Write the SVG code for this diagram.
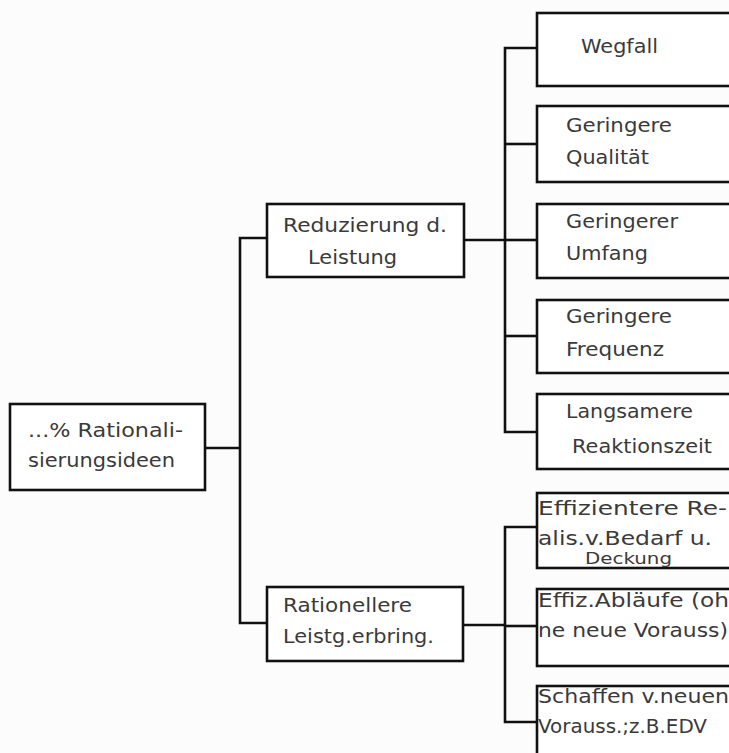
<svg xmlns="http://www.w3.org/2000/svg" width="729" height="753" viewBox="0 0 729 753">
  <style>
    .box { fill: #ffffff; stroke: #111111; stroke-width: 2.6; }
    .wire { fill: none; stroke: #111111; stroke-width: 2.6; stroke-linejoin: miter; }
    text { font-family: "DejaVu Sans", "Liberation Sans", sans-serif; font-size: 19px; fill: #3a3a3a; }
    .small { font-size: 16px; }
  </style>
  <rect width="729" height="753" fill="#fcfcfc"/>

  <!-- connectors -->
  <g id="connectors">
    <path class="wire" d="M205,448 H240"/>
    <path class="wire" d="M267,238 H240 V623 H267"/>
    <path class="wire" d="M464,240 H505"/>
    <path class="wire" d="M463,625 H505"/>
    <path class="wire" d="M537,48 H505 V432 H537"/>
    <path class="wire" d="M505,144 H537"/>
    <path class="wire" d="M505,240 H537"/>
    <path class="wire" d="M505,336 H537"/>
    <path class="wire" d="M537,527 H505 V722 H537"/>
    <path class="wire" d="M505,626 H537"/>
  </g>

  <!-- root -->
  <g id="root">
    <rect class="box" x="10" y="404" width="195" height="86"/>
    <text x="28" y="437" textLength="155" lengthAdjust="spacingAndGlyphs">...% Rationali-</text>
    <text x="28" y="467" textLength="147" lengthAdjust="spacingAndGlyphs">sierungsideen</text>
  </g>

  <!-- second level -->
  <g id="reduzierung">
    <rect class="box" x="267" y="204" width="197" height="73"/>
    <text x="283" y="232" textLength="164" lengthAdjust="spacingAndGlyphs">Reduzierung d.</text>
    <text x="308" y="264" textLength="89" lengthAdjust="spacingAndGlyphs">Leistung</text>
  </g>
  <g id="rationellere">
    <rect class="box" x="267" y="587" width="196" height="74"/>
    <text x="283" y="612" textLength="129" lengthAdjust="spacingAndGlyphs">Rationellere</text>
    <text x="283" y="643" textLength="151" lengthAdjust="spacingAndGlyphs">Leistg.erbring.</text>
  </g>

  <!-- third level: reduced output -->
  <g id="wegfall">
    <rect class="box" x="537" y="13" width="210" height="73"/>
    <text x="581" y="53" textLength="77" lengthAdjust="spacingAndGlyphs">Wegfall</text>
  </g>
  <g id="qualitaet">
    <rect class="box" x="537" y="106" width="210" height="76"/>
    <text x="566" y="132" textLength="106" lengthAdjust="spacingAndGlyphs">Geringere</text>
    <text x="566" y="164" textLength="83" lengthAdjust="spacingAndGlyphs">Qualität</text>
  </g>
  <g id="umfang">
    <rect class="box" x="537" y="204" width="210" height="74"/>
    <text x="566" y="228" textLength="112" lengthAdjust="spacingAndGlyphs">Geringerer</text>
    <text x="566" y="260" textLength="82" lengthAdjust="spacingAndGlyphs">Umfang</text>
  </g>
  <g id="frequenz">
    <rect class="box" x="537" y="300" width="210" height="73"/>
    <text x="566" y="323" textLength="106" lengthAdjust="spacingAndGlyphs">Geringere</text>
    <text x="566" y="356" textLength="98" lengthAdjust="spacingAndGlyphs">Frequenz</text>
  </g>
  <g id="reaktionszeit">
    <rect class="box" x="537" y="394" width="210" height="75"/>
    <text x="566" y="418" textLength="127" lengthAdjust="spacingAndGlyphs">Langsamere</text>
    <text x="572" y="453" textLength="140" lengthAdjust="spacingAndGlyphs">Reaktionszeit</text>
  </g>

  <!-- third level: rational delivery -->
  <g id="effizientere">
    <rect class="box" x="537" y="493" width="210" height="75"/>
    <text x="538" y="515" textLength="189" lengthAdjust="spacingAndGlyphs">Effizientere Re-</text>
    <text x="538" y="545" textLength="174" lengthAdjust="spacingAndGlyphs">alis.v.Bedarf u.</text>
    <text class="small" x="585" y="564" textLength="87" lengthAdjust="spacingAndGlyphs">Deckung</text>
  </g>
  <g id="ablaeufe">
    <rect class="box" x="537" y="589" width="210" height="77"/>
    <text x="538" y="607" textLength="191" lengthAdjust="spacingAndGlyphs">Effiz.Abläufe (oh</text>
    <text x="538" y="637" textLength="190" lengthAdjust="spacingAndGlyphs">ne neue Vorauss)</text>
  </g>
  <g id="schaffen">
    <rect class="box" x="537" y="686" width="210" height="80"/>
    <text x="538" y="703" textLength="191" lengthAdjust="spacingAndGlyphs">Schaffen v.neuen</text>
    <text x="538" y="733" textLength="169" lengthAdjust="spacingAndGlyphs">Vorauss.;z.B.EDV</text>
  </g>
</svg>
